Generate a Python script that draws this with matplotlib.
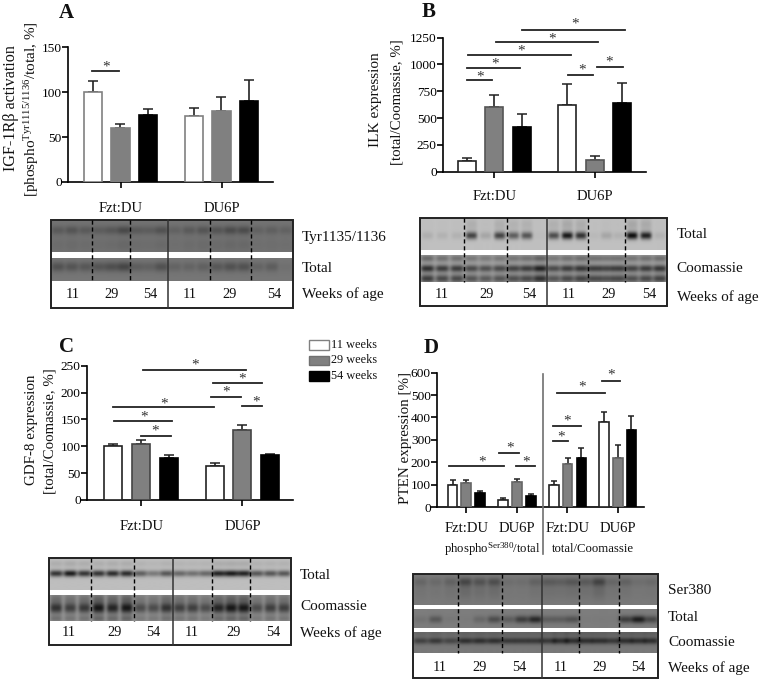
import numpy as np
import matplotlib
matplotlib.use('Agg')
import matplotlib.pyplot as plt
from matplotlib.patches import Rectangle

plt.rcParams.update({
    'font.family': ['Liberation Serif', 'DejaVu Serif'],
    'mathtext.fontset': 'custom',
    'mathtext.rm': 'Liberation Serif',
    'mathtext.default': 'regular',
})

W, H = 761, 683

# --- bar data ---
a_vals = [100, 60, 75, 74, 79, 90]
a_tops = [113, 65, 81, 82, 95, 114]
b_vals = [100, 600, 420, 625, 110, 645]
b_tops = [130, 715, 535, 815, 148, 830]
c_vals = [100, 105, 78, 64, 131, 83]
c_tops = [105, 111, 83, 68, 140, 85]
d_vals = [100, 106, 63, 33, 110, 48, 100, 192, 220, 378, 218, 343]
d_tops = [120, 120, 70, 38, 125, 60, 115, 218, 262, 423, 275, 405]

a_ticks = [0, 50, 100, 150]
b_ticks = [0, 250, 500, 750, 1000, 1250]
c_ticks = [0, 50, 100, 150, 200, 250]
d_ticks = [0, 100, 200, 300, 400, 500, 600]

ages = ['11 weeks', '29 weeks', '54 weeks']
weeks = ['11', '29', '54', '11', '29', '54']

# --- blot band strengths per lane (18 lanes, estimated by eye) ---
a_tyr = [.45, .55, .45, .4, .5, .75, .45, .4, .6, .3, .45, .55, .55, .7, .7, .3, .35, .3]
a_total = [.6, .55, .5, .55, .65, .8, .4, .35, .6, .3, .3, .35, .5, .6, .6, .3, .4, .1]
b_total = [.1, .08, .08, .7, .15, .7, .55, .6, .02, .65, .95, .8, .04, .15, .08, 1.0, .9, .08]
b_coom = [.9, .8, .8, .7, .65, .7, .75, .8, 1.0, .7, .8, .85, .8, .75, .8, .75, .8, .85]
c_total = [.8, .95, .8, .8, .85, .85, .55, .4, .6, .5, .45, .5, .9, .95, .9, .6, .6, .6]
c_coom = [.8, .7, .75, 1.0, .9, 1.0, .6, .6, .8, .7, .7, .6, .9, 1.0, 1.0, .6, .7, .7]
d_ser = [.25, .2, .3, .65, .5, .55, .15, .15, .3, .4, .35, .45, .4, .7, .25, .3, .15, .2]
d_total = [.1, .35, .05, .02, .2, .45, .3, .6, .8, .3, .3, .4, .01, .02, .02, .6, .9, .5]
d_coom = [.6, .7, .55, .8, .8, .8, .7, .7, .7, .7, .8, .8, .8, .8, .7, .8, .8, .8]

fill_cols = ['white', '#808080', 'black']


def px_axes(fig, left, right, bottom, top):
    return fig.add_axes([left / W, 1 - bottom / H, (right - left) / W, (bottom - top) / H])


def bar_panel(fig, left, right, y0, ytop, centers, bar_w, cap, vals, tops, ticks, group_ticks, edge_white, edge_gray):
    ax = px_axes(fig, left, right, y0, ytop)
    ax.set_xlim(left, right)
    ax.set_ylim(0, ticks[-1])
    ax.patch.set_alpha(0)
    for i, c in enumerate(centers):
        col = fill_cols[i % 3]
        edge = [edge_white, edge_gray, 'black'][i % 3]
        ax.bar(c, vals[i], width=bar_w, color=col, edgecolor=edge, linewidth=1.2, zorder=3)
        ax.errorbar(c, vals[i], yerr=[[0], [tops[i] - vals[i]]], color='#222222', elinewidth=1.2,
                    capsize=cap, capthick=1.1, zorder=2)
    for s in ['top', 'right']:
        ax.spines[s].set_visible(False)
    for s in ['left', 'bottom']:
        ax.spines[s].set_linewidth(1.2)
    ax.set_yticks(ticks)
    ax.set_xticks(group_ticks)
    ax.set_xticklabels([])
    ax.tick_params(axis='both', width=1.2, length=4, labelsize=9.6, pad=0.5)
    return ax


def blot_strip(ov, x0, x1, y0, y1, bg, seps, rows, lane_frac=0.42):
    # seps = dividers between the six lane groups; bands sit on 18 lanes
    nx, ny = int((x1 - x0) * 3), int((y1 - y0) * 3)
    xx = np.linspace(x0, x1, nx)
    yy = np.linspace(0, 1, ny)
    img = np.full((ny, nx), float(bg))
    edges = [x0] + list(seps) + [x1]
    lanes = []
    for k in range(6):
        for j in range(3):
            lanes.append(edges[k] + (j + 0.5) / 3 * (edges[k + 1] - edges[k]))
    lane_w = (x1 - x0) / 18 * lane_frac
    for ypos, ysig, depth, strengths in rows:
        for lx, s in zip(lanes, strengths):
            gx = np.exp(-((xx - lx) / lane_w) ** 4)
            gy = np.exp(-((yy - ypos) / ysig) ** 2)
            img -= depth * s * np.outer(gy, gx)
    ov.imshow(np.clip(img, 0, 255), cmap='gray', vmin=0, vmax=255, aspect='auto',
              extent=(x0, x1, y1, y0), interpolation='bilinear', zorder=2)


def blot_frame(ov, x0, x1, y0, y1, divider, dashes, dash_bottom):
    ov.add_patch(Rectangle((x0, y0), x1 - x0, y1 - y0, fill=False, edgecolor='#222222', linewidth=1.4, zorder=5))
    ov.plot([divider, divider], [y0, y1], color='#333333', lw=1.1, zorder=5)
    for d in dashes:
        ov.plot([d, d], [y0, dash_bottom], color='black', lw=1.0, ls=(0, (3, 2)), zorder=5)


def brackets(ov, items):
    for x0, x1, y, sx, sy in items:
        ov.plot([x0, x1], [y, y], color='#222222', lw=1.3, zorder=6)
        ov.text(sx, sy + 2.5, '*', fontsize=11, ha='center', va='center', color='#333333', zorder=6)


def put(ov, x, y, s, size=10.6, **kw):
    kw.setdefault('ha', 'left')
    kw.setdefault('va', 'center')
    ov.text(x, y, s, fontsize=size, color='#111111', zorder=6, **kw)


fig = plt.figure(figsize=(W / 100, H / 100), dpi=100)

a_x = [92.8, 120.5, 148, 194, 221.5, 249]
b_x = [466.7, 494, 521.7, 567.3, 595, 622.3]
c_x = [113.3, 141.3, 168.8, 214.8, 242.3, 270]
d_x = [452.5, 466.2, 480.2, 503.2, 517, 530.8, 553.7, 567.5, 581.3, 604.2, 618, 631.4]

bar_panel(fig, 68, 272.7, 182, 47.3, a_x, 18.3, 3.4, a_vals, a_tops, a_ticks, [120.7, 221.7], '#808080', '#808080')
bar_panel(fig, 443, 646, 171.7, 37.7, b_x, 18.3, 3.4, b_vals, b_tops, b_ticks, [494, 595], '#222222', '#555555')
bar_panel(fig, 87, 293, 500, 365.7, c_x, 18.3, 3.4, c_vals, c_tops, c_ticks, [141, 242], '#222222', '#444444')
bar_panel(fig, 437, 644, 507, 372.7, d_x, 9.6, 2.4, d_vals, d_tops, d_ticks, [466.3, 517, 567.3, 618], '#222222', '#666666')

# overlay in reference pixel coordinates, for labels, brackets and blots
ov = fig.add_axes([0, 0, 1, 1])
ov.axis('off')
ov.patch.set_alpha(0)

# panel letters
for x, y, s in [(66.7, 13, 'A'), (429, 12, 'B'), (66.7, 347, 'C'), (431, 348, 'D')]:
    put(ov, x, y, s, size=15, ha='center', fontweight='bold')

# y labels
put(ov, 11, 108, 'IGF-1Rβ activation', size=11.6, rotation=90, ha='center')
put(ov, 32, 109, '[phospho$^{Tyr1115/1136}$/total, %]', size=11, rotation=90, ha='center')
put(ov, 376, 100, 'ILK expression', size=11, rotation=90, ha='center')
put(ov, 397, 102, '[total/Coomassie, %]', size=10.7, rotation=90, ha='center')
put(ov, 31, 430, 'GDF-8 expression', size=10.8, rotation=90, ha='center')
put(ov, 50, 431, '[total/Coomassie, %]', size=10.7, rotation=90, ha='center')
put(ov, 405, 438, 'PTEN expression [%]', size=10.8, rotation=90, ha='center')

# group labels
for x, y, s in [(120.7, 208, 'Fzt:DU'), (221.7, 208, 'DU6P'), (495, 197, 'Fzt:DU'), (595, 197, 'DU6P'),
                (141.7, 526.7, 'Fzt:DU'), (242.7, 526.7, 'DU6P'), (466.7, 528, 'Fzt:DU'), (517, 528, 'DU6P'),
                (567.7, 528, 'Fzt:DU'), (618, 528, 'DU6P')]:
    put(ov, x, y, s, size=10.6, ha='center')
put(ov, 492.7, 549, 'phospho$^{Ser380}$/total', size=9.2, ha='center')
put(ov, 593.3, 549.5, 'total/Coomassie', size=9.2, ha='center')

# separator in panel D
ov.plot([542.7, 542.7], [374, 554], color='#707070', lw=1.2, zorder=4)

# legend
for y, col, edge, lab in zip([340.3, 355.6, 371], fill_cols, ['#808080', '#707070', 'black'], ages):
    ov.add_patch(Rectangle((308.5, y), 20, 9.5, facecolor=col, edgecolor=edge, linewidth=1.0, zorder=5))
    put(ov, 331, y + 4.7, lab, size=8.8)

# brackets: x0, x1, y, star x, star y
brackets(ov, [(91.7, 119.3, 71.3, 106, 65)])
brackets(ov, [(466.7, 492, 80, 480.3, 75), (467.3, 520.3, 68, 494.7, 61.7), (468.3, 571, 55, 521.3, 49),
              (496, 598.3, 42.3, 551.7, 36.7), (522.3, 624.7, 29.7, 574.7, 21.7),
              (568.3, 593.3, 74.7, 582, 68), (597.3, 622.7, 67.3, 609.3, 60)])
brackets(ov, [(142.7, 246, 369.7, 194.7, 362.7), (213.3, 261.7, 383, 242, 376.7), (211, 240.7, 396.7, 225.7, 390),
              (241.7, 261.7, 406, 256, 399.3), (113.3, 214, 407.3, 163.7, 401.3),
              (114, 171.7, 420.7, 143.7, 414.3), (140.7, 171, 435.7, 155.3, 429)])
brackets(ov, [(449.3, 504, 465.7, 481.7, 459.7), (499.3, 518.7, 453, 510, 445.7), (516.3, 535, 466.3, 526, 460),
              (552.7, 568.3, 440.7, 561.3, 434.7), (553.3, 581.3, 425.7, 567, 418.3),
              (556.7, 605.3, 393.3, 582, 384.7), (602.3, 620, 380.7, 611.3, 372.7)])

# blot A
a_seps = [92.3, 130.3, 168, 210.3, 250.7]
blot_strip(ov, 51, 293, 220, 252, 115, a_seps, [(0.32, 0.14, 55, a_tyr), (0.78, 0.22, 15, a_tyr)], 0.5)
blot_strip(ov, 51, 293, 258.5, 281, 118, a_seps, [(0.38, 0.22, 60, a_total)], 0.5)
blot_frame(ov, 51, 293, 220, 308, 168, [92.3, 130.3, 210.3, 250.7], 281)

# blot B
b_seps = [464.3, 506.7, 546.7, 587.7, 625]
blot_strip(ov, 420, 666.7, 218, 250, 192, b_seps, [(0.55, 0.12, 175, b_total), (0.2, 0.2, 25, b_total)])
blot_strip(ov, 420, 666.7, 255, 282, 170, b_seps, [(0.12, 0.14, 70, b_coom), (0.5, 0.14, 135, b_coom), (0.88, 0.16, 120, b_coom)], 0.5)
blot_frame(ov, 420, 666.7, 218, 306, 546.7, [464.3, 506.7, 587.7, 625], 282)

# blot C
c_seps = [91.3, 133.7, 173, 212, 250]
blot_strip(ov, 49, 290.7, 557.7, 590, 190, c_seps, [(0.5, 0.1, 170, c_total), (0.2, 0.1, 20, c_total)], 0.5)
blot_strip(ov, 49, 290.7, 595, 621, 155, c_seps, [(0.5, 0.22, 130, c_coom), (0.12, 0.2, 50, c_coom), (0.92, 0.14, 50, c_coom)], 0.46)
blot_frame(ov, 49, 290.7, 557.7, 645, 173, [91.3, 133.7, 212, 250], 621)

# blot D
d_seps = [458.3, 501.7, 542.3, 579.3, 619.3]
blot_strip(ov, 413.3, 658.3, 574, 605, 122, d_seps, [(0.25, 0.14, 70, d_ser), (0.55, 0.3, 25, d_ser)], 0.5)
blot_strip(ov, 413.3, 658.3, 609, 628, 125, d_seps, [(0.55, 0.2, 105, d_total)], 0.5)
blot_strip(ov, 413.3, 658.3, 632, 653, 120, d_seps, [(0.42, 0.16, 90, d_coom), (0.05, 0.18, 30, d_coom)], 0.55)
blot_frame(ov, 413.3, 658.3, 574, 678, 542.3, [458.3, 501.7, 579.3, 619.3], 653)

# blot labels
for x, y, s in [(301.7, 237, 'Tyr1135/1136'), (301.7, 268, 'Total'), (301.7, 294, 'Weeks of age'),
                (676.7, 235, 'Total'), (676.7, 268, 'Coomassie'), (676.7, 296.7, 'Weeks of age'),
                (300, 575.7, 'Total'), (300, 606.7, 'Coomassie'), (300, 632.7, 'Weeks of age'),
                (668, 591, 'Ser380'), (668, 617.7, 'Total'), (668, 642.7, 'Coomassie'), (668, 667.7, 'Weeks of age')]:
    put(ov, x, y, s, size=11)

# week numbers under the blots
week_rows = [
    ([72.7, 111.7, 150.7, 190, 229.3, 274], 295),
    ([441.7, 486.7, 529, 568.3, 608.3, 649.3], 294),
    ([69, 114.3, 153.3, 191.7, 234, 273.3], 632.7),
    ([439.3, 480, 519, 560.3, 599.3, 638.3], 667.3),
]
for xs, y in week_rows:
    for x, s in zip(xs, weeks):
        put(ov, x, y, s, size=10.4, ha='center')

ov.set_xlim(0, W)
ov.set_ylim(H, 0)

fig.savefig('out.png', dpi=100)
